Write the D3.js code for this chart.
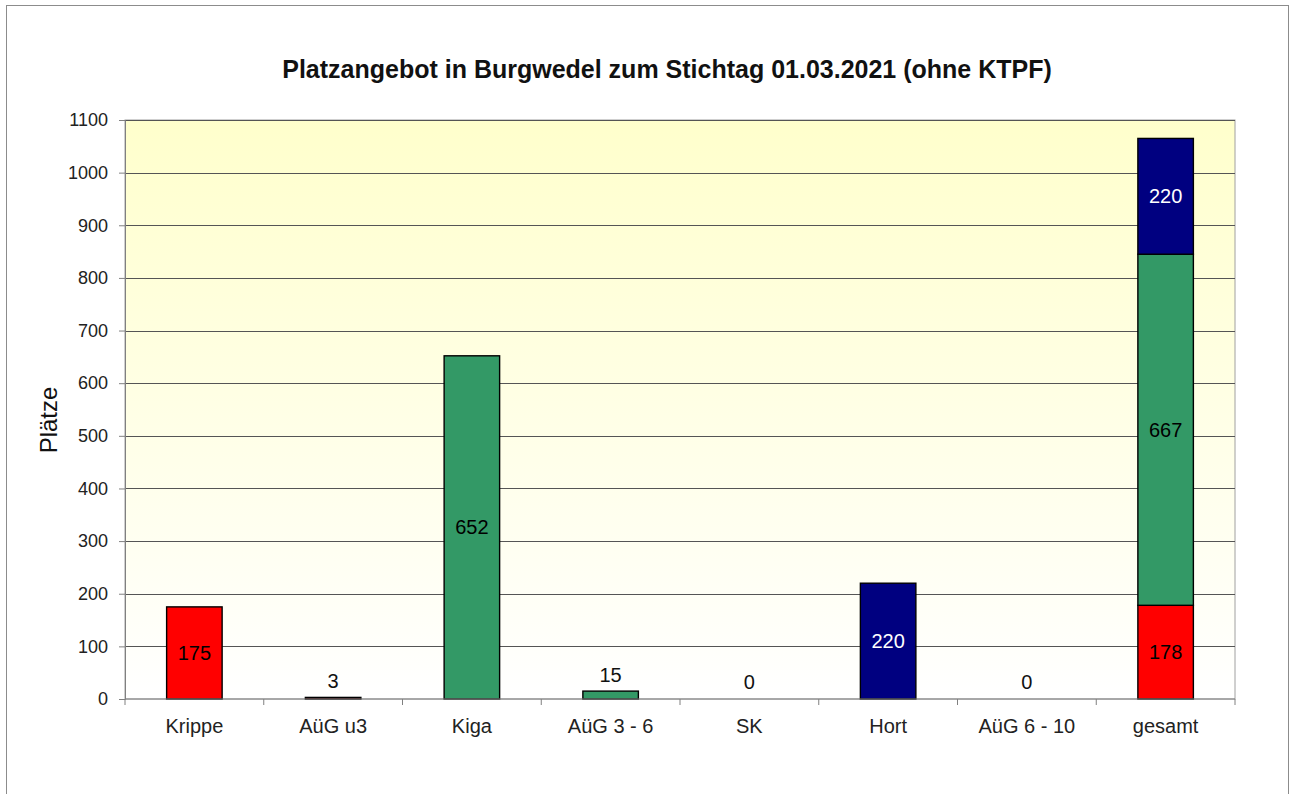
<!DOCTYPE html>
<html>
<head>
<meta charset="utf-8">
<script src="https://cdn.jsdelivr.net/npm/d3@7"></script>
<style>
  body { margin: 0; background: #fff; }
  text { font-family: "Liberation Sans", Arial, sans-serif; }
</style>
</head>
<body>
<div id="chart"></div>
<script>
const categories = ["Krippe", "AüG u3", "Kiga", "AüG 3 - 6", "SK", "Hort", "AüG 6 - 10", "gesamt"];
const u3Values = [175, 3, 0, 0, 0, 0, 0, 178];
const kigaValues = [0, 0, 652, 15, 0, 0, 0, 667];
const hortValues = [0, 0, 0, 0, 0, 220, 0, 220];
const zeroLabels = ["SK", "AüG 6 - 10"];
const yTicks = d3.range(0, 1101, 100);

const W = 1292, H = 794;
const margin = { top: 120, right: 57, bottom: 95, left: 125 },
    width = W - margin.left - margin.right,
    height = H - margin.top - margin.bottom;

const svgRoot = d3.select("#chart").append("svg")
    .attr("width", W)
    .attr("height", H);

svgRoot.append("rect")
    .attr("x", 6.5).attr("y", 5.5)
    .attr("width", 1282).attr("height", 800)
    .attr("fill", "#fff")
    .attr("stroke", "#8c8c8c");

const grad = svgRoot.append("defs").append("linearGradient")
    .attr("id", "bg").attr("x1", 0).attr("y1", 0).attr("x2", 0).attr("y2", 1);
grad.append("stop").attr("offset", "0%").attr("stop-color", "#ffffcc");
grad.append("stop").attr("offset", "100%").attr("stop-color", "#ffffff");

svgRoot.append("text")
    .attr("x", 667).attr("y", 78)
    .attr("text-anchor", "middle")
    .attr("font-size", 25).attr("font-weight", "bold")
    .attr("fill", "#111")
    .text("Platzangebot in Burgwedel zum Stichtag 01.03.2021 (ohne KTPF)");

const svg = svgRoot.append("g")
    .attr("transform", `translate(${margin.left},${margin.top})`);

const xScale = d3.scaleBand()
    .domain(categories)
    .range([0, width])
    .paddingInner(0.6)
    .paddingOuter(0.3);

const yScale = d3.scaleLinear()
    .domain([0, 1100])
    .range([height, 0]);

svg.append("rect")
    .attr("width", width).attr("height", height)
    .attr("fill", "url(#bg)")
    .attr("stroke", "#a0a0a0");

svg.append("g")
    .selectAll("line")
    .data(yTicks.filter(t => t > 0))
    .join("line")
    .attr("x1", 0).attr("x2", width)
    .attr("y1", d => Math.round(yScale(d)) + 0.5)
    .attr("y2", d => Math.round(yScale(d)) + 0.5)
    .attr("stroke", "#555");

// stacked data
const rows = categories.map((c, i) => ({ cat: c, u3: u3Values[i], kiga: kigaValues[i], hort: hortValues[i] }));
const keys = ["u3", "kiga", "hort"];
const colors = { u3: "#ff0000", kiga: "#339966", hort: "#000080" };
const labelColors = { u3: "#000", kiga: "#000", hort: "#fff" };
const stack = d3.stack().keys(keys)(rows);

stack.forEach(layer => {
    const key = layer.key;
    layer.forEach(d => {
        const v = d[1] - d[0];
        if (v <= 0) return;
        const cat = d.data.cat;
        const x = xScale(cat);
        const y0 = yScale(d[0]), y1 = yScale(d[1]);
        svg.append("rect")
            .attr("x", x).attr("y", y1)
            .attr("width", xScale.bandwidth())
            .attr("height", y0 - y1)
            .attr("fill", colors[key])
            .attr("stroke", "#000")
            .attr("stroke-width", 1.4);
        const inside = (y0 - y1) > 30;
        svg.append("text")
            .attr("x", x + xScale.bandwidth() / 2)
            .attr("y", inside ? (y0 + y1) / 2 + 7 : y1 - 9)
            .attr("text-anchor", "middle")
            .attr("font-size", 20)
            .attr("fill", inside ? labelColors[key] : "#111")
            .text(v);
    });
});

zeroLabels.forEach(c => {
    svg.append("text")
        .attr("x", xScale(c) + xScale.bandwidth() / 2)
        .attr("y", yScale(0) - 10)
        .attr("text-anchor", "middle")
        .attr("font-size", 20)
        .attr("fill", "#111")
        .text(0);
});

// y axis
const yAxis = svg.append("g")
    .call(d3.axisLeft(yScale).tickValues(yTicks).tickFormat(d3.format("d")).tickSize(6).tickPadding(11));
yAxis.selectAll("text").attr("font-size", 18).attr("fill", "#222");
yAxis.selectAll("line").attr("stroke", "#808080");
yAxis.select(".domain").attr("stroke", "#808080");

// x axis with ticks between categories
const xg = svg.append("g").attr("transform", `translate(0,${height})`);
xg.append("line").attr("x1", 0).attr("x2", width).attr("stroke", "#808080");
xg.selectAll(".sep")
    .data(d3.range(categories.length + 1))
    .join("line")
    .attr("x1", i => i * width / categories.length)
    .attr("x2", i => i * width / categories.length)
    .attr("y1", 0).attr("y2", 6)
    .attr("stroke", "#808080");
xg.selectAll(".lbl")
    .data(categories)
    .join("text")
    .attr("x", c => xScale(c) + xScale.bandwidth() / 2)
    .attr("y", 34)
    .attr("text-anchor", "middle")
    .attr("font-size", 20)
    .attr("fill", "#222")
    .text(c => c);

svgRoot.append("text")
    .attr("transform", "translate(57,420) rotate(-90)")
    .attr("text-anchor", "middle")
    .attr("font-size", 24)
    .attr("fill", "#111")
    .text("Plätze");
</script>
</body>
</html>
